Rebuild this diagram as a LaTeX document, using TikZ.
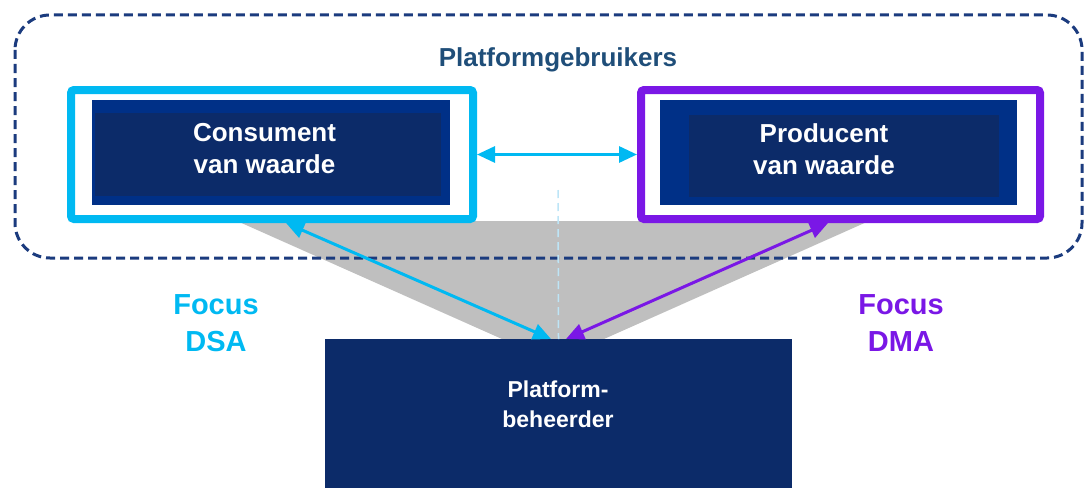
\documentclass[tikz,border=0pt]{standalone}
\usepackage{fontspec}
\setmainfont{Liberation Sans}
\usetikzlibrary{arrows.meta}
\definecolor{navyA}{HTML}{003087}
\definecolor{navyB}{HTML}{0C2B69}
\definecolor{cyanC}{HTML}{00B9F2}
\definecolor{purpleC}{HTML}{7A17E6}
\definecolor{titleC}{HTML}{1F4E79}
\definecolor{borderC}{HTML}{1B3B7E}
\definecolor{grayC}{HTML}{BFBFBF}
\definecolor{lightC}{HTML}{BDE5F7}
\tikzset{
  frame/.style={draw, line width=8pt, rounded corners=3pt, fill=white, inner sep=0pt},
  panel/.style={fill=navyA, inner sep=0pt},
  core/.style={fill=navyB, inner sep=0pt},
  label/.style={text=white, font=\bfseries\fontsize{26}{32}\selectfont, align=center},
  focus/.style={font=\bfseries\fontsize{29}{37}\selectfont, align=center},
  link/.style={line width=3pt, {Triangle[length=18pt,width=16pt]}-{Triangle[length=18pt,width=16pt]}, shorten <=0pt, shorten >=0pt}
}
\begin{document}
\begin{tikzpicture}[x=1pt,y=-1pt]
\useasboundingbox (0,0) rectangle (1086,487);
% grey funnel towards the operator
\fill[grayC] (237,221) -- (869,221) -- (604,339) -- (502,339) -- cycle;
% dashed group of platform users
\draw[borderC, line width=3pt, dash pattern=on 9pt off 5pt, rounded corners=35pt]
  (15,15) rectangle (1082,258);
\node[text=titleC, font=\bfseries\fontsize{26}{30}\selectfont] (title) at (558,60) {Platformgebruikers};
% consumer
\node[frame, draw=cyanC, minimum width=402pt, minimum height=129pt] (cons) at (272,154.5) {};
\node[panel, minimum width=358pt, minimum height=105pt] (consA) at (271,152.5) {};
\node[core, minimum width=346pt, minimum height=83pt] (consB) at (268,154.5) {};
\node[label] (consT) at (264.5,149) {Consument\\van waarde};
% producer
\node[frame, draw=purpleC, minimum width=399pt, minimum height=129pt] (prod) at (840.5,154.5) {};
\node[panel, minimum width=357pt, minimum height=105pt] (prodA) at (838.5,152.5) {};
\node[core, minimum width=310pt, minimum height=82pt] (prodB) at (844,156) {};
\node[label] (prodT) at (824,149) {Producent\\van waarde};
% platform operator
\node[core, minimum width=467pt, minimum height=160pt, anchor=north] (beh) at (558.5,339) {};
\node[text=white, font=\bfseries\fontsize{23}{30}\selectfont, align=center] (behT) at (558,404) {Platform-\\beheerder};
% focus labels
\node[focus, text=cyanC] (dsa) at (216,323) {Focus\\DSA};
\node[focus, text=purpleC] (dma) at (901,323) {Focus\\DMA};
% light centre line
\coordinate (vtop) at (558,190);
\draw[lightC, line width=1.5pt, dash pattern=on 8pt off 5pt] (vtop) -- (beh.north);
% connectors
\coordinate (cUp) at (286,223);
\coordinate (cDn) at (551,339);
\coordinate (pUp) at (828,223);
\coordinate (pDn) at (566,339);
\draw[link, cyanC] (cons.east) -- (prod.west);
\draw[link, cyanC] (cUp) -- (cDn);
\draw[link, purpleC] (pUp) -- (pDn);
\end{tikzpicture}
\end{document}
